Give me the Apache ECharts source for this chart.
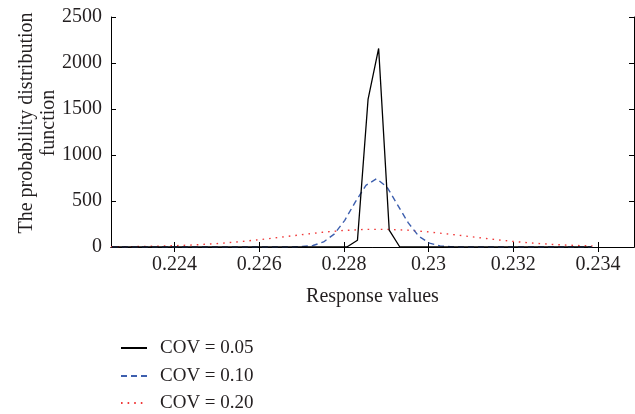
<!DOCTYPE html>
<html>
<head>
<meta charset="utf-8">
<script src="https://cdn.jsdelivr.net/npm/echarts@6/dist/echarts.min.js"></script>
<style>
html,body{margin:0;padding:0;background:#fff;}
#chart{width:635px;height:414px;}
</style>
</head>
<body>
<div id="chart"></div>
<script>
// Data
var seriesNames = ['COV = 0.05', 'COV = 0.10', 'COV = 0.20'];
var xTickValues = [0.224, 0.226, 0.228, 0.23, 0.232, 0.234];
var yTickMax = 2500;

var cov05X = [0.22252, 0.22807, 0.22832, 0.22857, 0.22882, 0.22907, 0.22932, 0.23385];
var cov05Y = [0, 0, 73, 1604, 2158, 183, 0, 0];

var cov10X = [0.22252, 0.22677, 0.22702, 0.22727, 0.22752, 0.22777, 0.22802, 0.22827, 0.22852, 0.22877, 0.22902, 0.22927, 0.22952, 0.22977, 0.23002, 0.23027, 0.23052, 0.23077, 0.23385];
var cov10Y = [0, 0, 5, 16, 55, 140, 290, 490, 670, 742, 650, 455, 262, 115, 42, 12, 3, 0, 0];

var cov20X = [0.2225, 0.2230, 0.2235, 0.2240, 0.2245, 0.2250, 0.2255, 0.2260, 0.2265, 0.2270, 0.2275, 0.2280, 0.2285, 0.2290, 0.2295, 0.2300, 0.2305, 0.2310, 0.2315, 0.2320, 0.2325, 0.2330, 0.2335, 0.23387];
var cov20Y = [2, 4, 8, 14, 23, 37, 56, 79, 106, 134, 160, 180, 191, 192, 183, 164, 139, 112, 85, 60, 41, 26, 16, 11];

function zip(xs, ys) { return xs.map(function (x, i) { return [x, ys[i]]; }); }

var FONT = 'Liberation Serif';
var TXT = '#231f20';
var legendTops = [338, 366, 393];

var legends = seriesNames.map(function (n, i) {
  return {
    orient: 'vertical',
    left: 120,
    top: legendTops[i],
    padding: 0,
    itemWidth: 26,
    itemHeight: 14,
    itemStyle: {opacity: 0},
    textStyle: {fontFamily: FONT, fontSize: 19, color: TXT, lineHeight: 20, padding: [0, 0, 0, 8]},
    data: [n]
  };
});

var chart = echarts.init(document.getElementById('chart'), null, {renderer: 'canvas'});
var option = {
  backgroundColor: '#ffffff',
  animation: false,
  grid: {left: 111, right: 1, top: 17, bottom: 167, containLabel: false},
  legend: legends,
  xAxis: [{
    type: 'value',
    min: 0.2225,
    max: 0.23485,
    position: 'bottom',
    name: 'Response values',
    nameLocation: 'middle',
    nameGap: 40,
    nameMoveOverlap: false,
    nameTextStyle: {fontFamily: FONT, fontSize: 20, color: TXT},
    axisLine: {lineStyle: {color: '#000', width: 1}},
    axisTick: {inside: true, length: 5, customValues: xTickValues, lineStyle: {color: '#000'}},
    axisLabel: {customValues: xTickValues, margin: 8, fontFamily: FONT, fontSize: 20, color: TXT,
      formatter: function (v) { return String(Number(v.toFixed(3))); }},
    splitLine: {show: false}
  }, {
    type: 'value',
    min: 0.2225,
    max: 0.23485,
    position: 'top',
    axisLine: {lineStyle: {color: '#000', width: 1}},
    axisTick: {inside: true, length: 5, customValues: xTickValues, lineStyle: {color: '#000'}},
    axisLabel: {show: false},
    splitLine: {show: false}
  }],
  yAxis: [{
    type: 'value',
    min: 0,
    max: yTickMax,
    interval: 500,
    position: 'left',
    name: 'The probability distribution\nfunction',
    nameLocation: 'middle',
    nameGap: 51,
    nameMoveOverlap: false,
    nameTextStyle: {fontFamily: FONT, fontSize: 20, color: TXT, lineHeight: 22, padding: [0, 0, 0, 18]},
    axisLine: {show: true, lineStyle: {color: '#000', width: 1}},
    axisTick: {show: true, inside: true, length: 5, lineStyle: {color: '#000'}},
    axisLabel: {margin: 9, fontFamily: FONT, fontSize: 20, color: TXT,
      formatter: function (v) { return String(v); }},
    splitLine: {show: false}
  }, {
    type: 'value',
    min: 0,
    max: yTickMax,
    interval: 500,
    position: 'right',
    axisLine: {show: true, lineStyle: {color: '#000', width: 1}},
    axisTick: {show: true, inside: true, length: 5, lineStyle: {color: '#000'}},
    axisLabel: {show: false},
    splitLine: {show: false}
  }],
  series: [{
    name: seriesNames[0],
    type: 'line',
    symbol: 'none',
    data: zip(cov05X, cov05Y),
    lineStyle: {color: '#000000', width: 1.3, type: 'solid'},
    itemStyle: {color: '#000000'},
    z: 4
  }, {
    name: seriesNames[1],
    type: 'line',
    symbol: 'none',
    data: zip(cov10X, cov10Y),
    lineStyle: {color: '#3d5fae', width: 1.4, type: [6, 4]},
    itemStyle: {color: '#3d5fae'},
    z: 3
  }, {
    name: seriesNames[2],
    type: 'line',
    symbol: 'none',
    data: zip(cov20X, cov20Y),
    lineStyle: {color: '#f03a3a', width: 1.4, type: [1.6, 5]},
    itemStyle: {color: '#f03a3a'},
    z: 2
  }]
};
chart.setOption(option);
</script>
</body>
</html>
